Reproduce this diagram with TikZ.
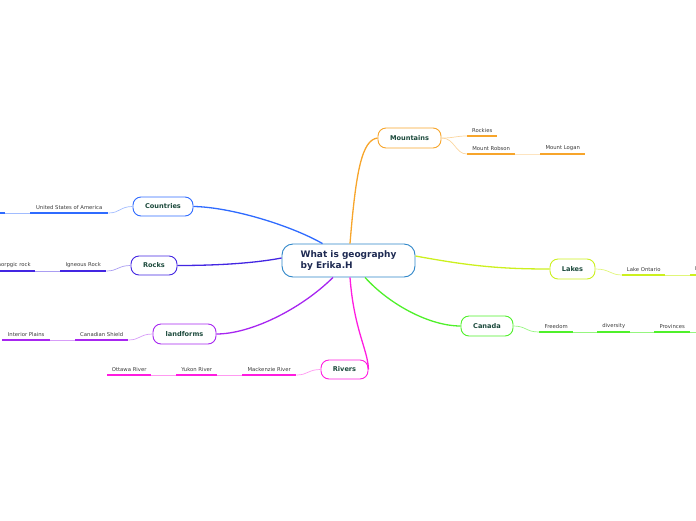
\documentclass[tikz,border=0pt]{standalone}
\usepackage{fontspec}
\setmainfont{DejaVu Sans}
\definecolor{cC}{HTML}{2E86C9}
\definecolor{oC}{HTML}{F7A52B}
\definecolor{bC}{HTML}{2F6BFF}
\definecolor{iC}{HTML}{4326E2}
\definecolor{pC}{HTML}{A726F0}
\definecolor{mC}{HTML}{FF1CE0}
\definecolor{lC}{HTML}{CCF01E}
\definecolor{gC}{HTML}{4FF02A}
\definecolor{labC}{HTML}{1C4A3C}
\definecolor{ctxt}{HTML}{1E2A52}
\definecolor{subC}{HTML}{3A3A3A}
\begin{document}
\begin{tikzpicture}[x=1pt,y=-1pt,
  mainbox/.style={draw, rounded corners=8pt, line width=0.9pt, fill=white,
    font=\bfseries\fontsize{6.6}{8}\selectfont, text=labC, inner sep=0pt},
  sub/.style={font=\fontsize{5.3}{6.5}\selectfont, text=subC, inner xsep=0pt,
    inner ysep=3pt, anchor=south west},
  ul/.style={line width=1.6pt},
  lk/.style={line width=0.7pt},
  br/.style={line width=1.3pt}]
\useasboundingbox (0,0) rectangle (696,520);

% central node
\node[draw=cC, line width=0.9pt, rounded corners=11pt, fill=white,
  minimum width=133pt, minimum height=33pt, align=left, text=ctxt,
  font=\bfseries\fontsize{9}{11}\selectfont, inner sep=0pt]
  (c) at (348.5,260.5) {What is geography\\by Erika.H};

% main nodes
\node[mainbox, draw=oC, minimum width=63pt, minimum height=20pt] (mo) at (409.5,138) {Mountains};
\node[mainbox, draw=bC, minimum width=60pt, minimum height=19pt] (co) at (163,206.5) {Countries};
\node[mainbox, draw=iC, minimum width=46pt, minimum height=19pt] (ro) at (154,265.5) {Rocks};
\node[mainbox, draw=pC, minimum width=63pt, minimum height=20pt] (la) at (184.5,334) {landforms};
\node[mainbox, draw=mC, minimum width=47pt, minimum height=19pt] (ri) at (344.5,369.5) {Rivers};
\node[mainbox, draw=lC, minimum width=45pt, minimum height=20pt] (lk) at (572.5,269) {Lakes};
\node[mainbox, draw=gC, minimum width=52pt, minimum height=20pt] (ca) at (487,326) {Canada};

% branches from centre
\draw[br, oC] ([xshift=1.5pt]c.north) .. controls (356,170) and (362,140) .. (mo.west);
\draw[br, bC] ([xshift=-26pt]c.north) .. controls (290,225) and (230,207) .. (co.east);
\draw[br, iC] ([yshift=2.5pt]c.west) .. controls (250,264) and (210,265.5) .. (ro.east);
\draw[br, pC] ([xshift=-15.5pt]c.south) .. controls (300,310) and (250,334) .. (la.east);
\draw[br, mC] ([xshift=1.5pt]c.south) .. controls (354,330) and (368,350) .. (ri.east);
\draw[br, gC] ([xshift=16.5pt]c.south) .. controls (390,305) and (430,326) .. (ca.west);
\draw[br, lC] ([yshift=4.5pt]c.east) .. controls (470,266) and (500,269) .. (lk.west);

% Mountains
\node[sub, minimum width=30pt] (m1) at (467,136) {Rockies};
\node[sub, minimum width=48pt] (m2) at (467,154) {Mount Robson};
\node[sub, minimum width=45pt] (m3) at (540,154) {Mount Logan};
\foreach \n in {m1,m2,m3} \draw[ul, oC] (\n.south west) -- (\n.south east);
\draw[lk, oC!45] (mo.east) .. controls (455,138) and (455,136) .. (m1.south west);
\draw[lk, oC!45] (mo.east) .. controls (455,138) and (455,154) .. (m2.south west);
\draw[lk, oC!30] (m2.south east) -- (m3.south west);

% Countries
\node[sub, minimum width=78pt] (c1) at (30,213) {United States of America};
\coordinate (c2) at (5,213);
\draw[ul, bC] (c1.south west) -- (c1.south east);
\draw[ul, bC] (c2) -- (-30,213);
\draw[lk, bC!45] (co.west) .. controls (120,206.5) and (120,213) .. (c1.south east);
\draw[lk, bC!45] (c1.south west) -- (c2);

% Rocks
\node[sub, minimum width=46pt] (r1) at (60,271) {Igneous Rock};
\node[sub, minimum width=57pt] (r2) at (-22,271) {Metamorpgic rock};
\foreach \n in {r1,r2} \draw[ul, iC] (\n.south west) -- (\n.south east);
\draw[lk, iC!45] (ro.west) .. controls (118,265.5) and (118,271) .. (r1.south east);
\draw[lk, iC!45] (r2.south east) -- (r1.south west);

% landforms
\node[sub, minimum width=53pt] (l1) at (75,340) {Canadian Shield};
\node[sub, minimum width=48pt] (l2) at (2,340) {Interior Plains};
\foreach \n in {l1,l2} \draw[ul, pC] (\n.south west) -- (\n.south east);
\draw[lk, pC!45] (la.west) .. controls (140,334) and (140,340) .. (l1.south east);
\draw[lk, pC!45] (l2.south east) -- (l1.south west);

% Rivers
\node[sub, minimum width=54pt] (v1) at (242,375) {Mackenzie River};
\node[sub, minimum width=41pt] (v2) at (176,375) {Yukon River};
\node[sub, minimum width=44pt] (v3) at (107,375) {Ottawa River};
\foreach \n in {v1,v2,v3} \draw[ul, mC] (\n.south west) -- (\n.south east);
\draw[lk, mC!45] (ri.west) .. controls (308,369.5) and (308,375) .. (v1.south east);
\draw[lk, mC!45] (v2.south east) -- (v1.south west);
\draw[lk, mC!45] (v3.south east) -- (v2.south west);

% Lakes
\node[sub, minimum width=43pt] (k1) at (622,275) {Lake Ontario};
\node[sub, inner xsep=5pt] (k2) at (690,275) {Lake Superior};
\foreach \n in {k1,k2} \draw[ul, lC] (\n.south west) -- (\n.south east);
\draw[lk, lC!60] (lk.east) .. controls (610,269) and (610,275) .. (k1.south west);
\draw[lk, lC!60] (k1.south east) -- (k2.south west);

% Canada
\node[sub, minimum width=34pt] (d1) at (539,332) {Freedom};
\node[sub, minimum width=33pt] (d2) at (597,332) {diversity};
\node[sub, minimum width=36pt] (d3) at (654,332) {Provinces};
\coordinate (d4) at (720,332);
\foreach \n in {d1,d2,d3} \draw[ul, gC] (\n.south west) -- (\n.south east);
\draw[lk, gC!60] (ca.east) .. controls (526,326) and (526,332) .. (d1.south west);
\draw[lk, gC!60] (d1.south east) -- (d2.south west);
\draw[lk, gC!60] (d2.south east) -- (d3.south west);
\draw[lk, gC!60] (d3.south east) -- (d4);
\end{tikzpicture}
\end{document}
